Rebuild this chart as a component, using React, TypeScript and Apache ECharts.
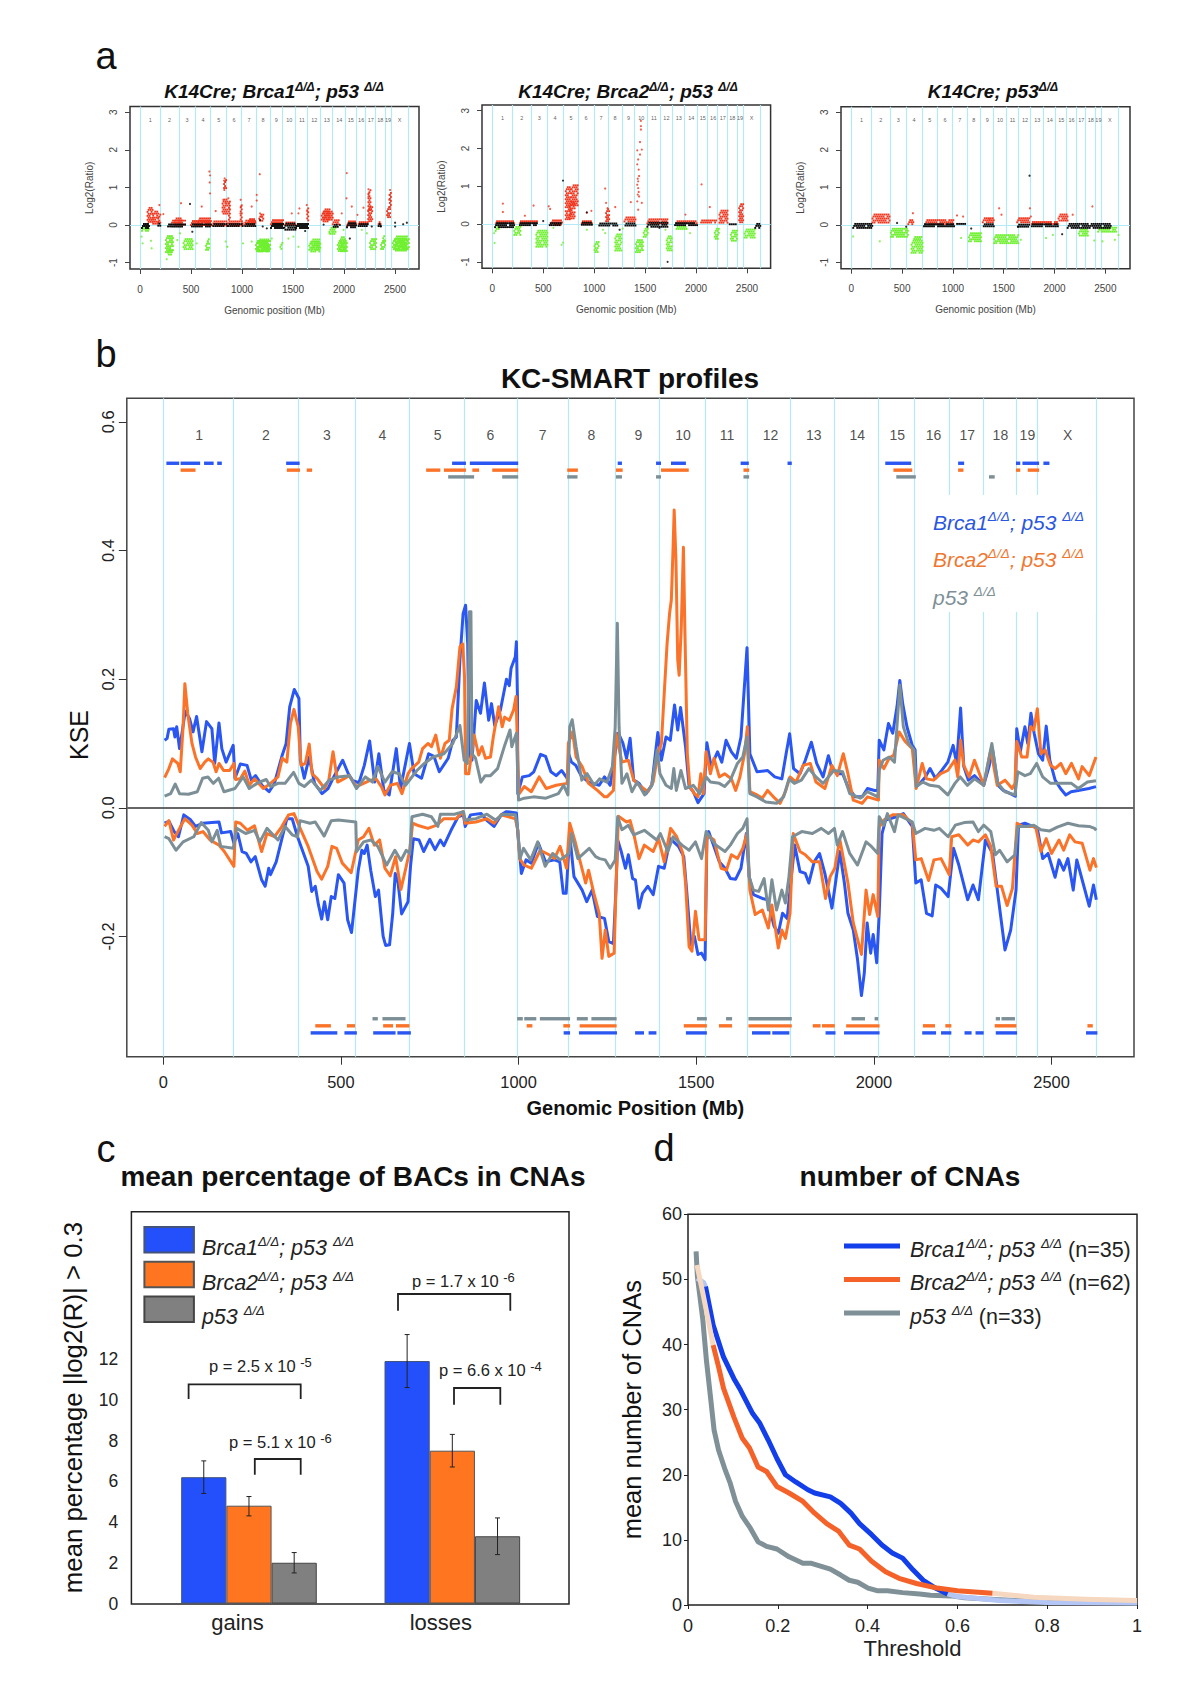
import React, { useEffect, useRef } from "react";
import * as echarts from "echarts";

const FONT = "Liberation Sans";
const BLUE = "#2A56F2";
const ORANGE = "#FA7328";
const GRAY = "#7C8F96";
const D = "Δ/Δ";

const chromEnds = [0,197,380,540,693,847,997,1140,1273,1396,1525,1644,1765,1889,2012,2115,2213,2307,2400,2460,2626];
const chromLabels = ["1","2","3","4","5","6","7","8","9","10","11","12","13","14","15","16","17","18","19","X"];
const chromCenters = [101,289,461,617,772,921,1068,1205,1337,1463,1587,1709,1831,1953,2066,2168,2263,2356,2432,2545];

// panel a: [x0,x1,low,high] dense clouds, plus individually read points
const a1RedBands = [[65,120,.1,.48],[120,170,.05,.38],[170,197,.05,.3],[295,440,0,.14],[330,400,0,.2],[490,690,0,.13],[560,680,.05,.2],[700,850,0,.12],[800,850,.28,.7],[815,840,1,1.22],[850,1000,0,.12],[862,876,.1,.7],[978,992,.1,.6],[1013,1130,0,.14],[1050,1120,.05,.18],[1160,1200,.1,.3],[1275,1406,0,.15],[1406,1520,0,.09],[1630,1645,.12,.52],[1772,1880,.12,.38],[1790,1850,.1,.44],[1880,1940,0,.15],[2020,2115,0,.12],[2125,2225,0,.1],[2230,2256,.4,.95],[2228,2270,.1,.5],[2320,2355,0,.1],[2413,2452,.2,.5],[2440,2456,.5,.93]];
const a1GreenBands = [[245,317,-.7,-.27],[265,300,-.78,-.6],[418,507,-.65,-.35],[638,677,-.65,-.42],[655,670,-.42,-.3],[837,850,-.6,-.5],[1128,1270,-.67,-.4],[1150,1250,-.72,-.36],[1367,1393,-.65,-.45],[1650,1766,-.67,-.42],[1670,1750,-.72,-.36],[1848,1913,-.25,-.05],[1930,2020,-.7,-.4],[1950,2005,-.7,-.3],[2246,2305,-.65,-.35],[2354,2397,-.65,-.4],[2375,2390,-.45,-.22],[2469,2633,-.65,-.35],[2490,2610,-.68,-.28],[10,80,-.14,-.02]];
const a1BlackBands = [[10,82,-.09,.05],[160,190,-.04,.06],[256,300,-.04,.04],[295,440,-.03,.04],[490,690,-.05,.04],[700,850,-.02,.05],[850,1000,-.03,.05],[1013,1130,-.03,.05],[1275,1406,-.08,.05],[1406,1520,-.1,.06],[1520,1640,-.07,.05],[1880,1930,-.03,.03],[2020,2115,-.05,.07],[2125,2225,-.04,.05],[2320,2355,-.05,.05]];
const a1Red = [[680,1.42],[687,1.32],[683,1.13],[687,.84],[830,1.24],[824,1.18],[837,1.16],[827,.93],[817,.67],[837,.58],[866,.71],[873,.58],[876,.44],[987,.67],[991,.49],[984,.31],[1174,1.35],[1144,.8],[1144,.65],[1095,.49],[742,.37],[605,.49],[402,.58],[190,.53],[229,.29],[1553,.31],[1488,.31],[1563,.44],[1635,.53],[1641,.36],[2027,1.38],[2024,.71],[2076,.49],[1978,.31],[2132,.27],[2191,.46],[2240,.95],[2243,.84],[2240,.76],[2250,.4],[2452,.93],[2446,.8],[2443,.67],[1177,.31],[1194,.22]];
const a1Green = [[16,-.31],[26,-.49],[108,-.42],[114,-.62],[262,-.91],[366,-.4],[392,-.22],[556,-.49],[840,-.44],[1010,-.49],[1095,-.44],[1292,-.36],[1455,-.36],[1504,-.31],[1553,-.58],[1857,-.22],[1880,-.18],[1995,-.13],[2175,-.13],[2224,-.22]];
const a1Black = [[490,.56],[513,-.18],[2057,-.36],[2501,.06],[2616,.06],[2580,.02],[1800,.01],[1177,.13],[1203,-.04],[1243,-.09],[1619,-.16],[1960,0],[2272,-.04],[2361,-.04],[2501,-.04]];

const a2RedBands = [[18,207,0,.1],[252,432,0,.1],[567,680,0,.12],[712,770,.15,1],[770,838,.5,1.05],[750,800,.15,.6],[860,973,.03,.1],[1108,1144,.05,.42],[1288,1400,.05,.2],[1513,1716,0,.15],[1790,2010,0,.1],[2031,2190,.05,.12],[2221,2302,.05,.38],[2414,2459,.05,.55]];
const a2GreenBands = [[207,275,-.28,-.05],[423,532,-.62,-.15],[995,1040,-.75,-.45],[1198,1266,-.7,-.25],[1400,1477,-.75,-.4],[1477,1522,-.35,-.1],[1703,1761,-.68,-.3],[1790,1900,-.12,-.05],[2175,2221,-.4,-.1],[2333,2401,-.42,-.15],[2468,2572,-.38,-.12],[23,60,-.18,-.05]];
const a2BlackBands = [[18,207,-.06,.05],[252,432,-.04,.05],[545,667,-.03,.05],[860,973,-.04,.06],[1031,1220,-.04,.04],[1288,1400,-.03,.04],[1513,1716,-.05,.06],[1775,2010,-.05,.05],[2302,2400,-.02,.02],[2572,2626,-.1,.03]];
const a2Red = [[104,.54],[104,.32],[320,.22],[405,.49],[554,.47],[568,.4],[1108,.94],[1117,.56],[1131,.42],[1207,.45],[973,.35],[928,.3],[1360,.58],[1459,2.73],[1459,2.59],[1459,2.5],[1450,2.17],[1423,1.95],[1468,1.97],[1450,1.84],[1432,1.71],[1423,1.58],[1437,1.44],[1441,1.27],[1432,1.13],[1423,1.04],[1428,.78],[1441,.73],[1423,.6],[1468,.56],[1432,.38],[1432,.95],[1437,.85],[1428,1.2],[2054,1.05],[2135,.45],[1896,.25]];
const a2Green = [[23,-.5],[18,-.24],[680,-.55],[694,-.49],[928,-.15],[1086,-.15],[1108,-.24],[1941,-.24],[1700,-.15],[600,-.1],[1280,-.12]];
const a2Black = [[694,1.15],[1721,-1],[928,.31],[500,.08],[1250,-.15],[1640,-.1]];

const a3RedBands = [[199,370,.07,.3],[551,605,0,.15],[719,1003,.04,.15],[1284,1397,.05,.2],[1623,1758,.05,.2],[1758,2030,.04,.1],[2030,2120,.1,.3]];
const a3GreenBands = [[380,551,-.3,-.08],[583,696,-.72,-.4],[600,680,-.4,-.3],[1148,1275,-.45,-.2],[1397,1636,-.5,-.25],[2230,2320,-.28,-.1],[2420,2600,-.18,-.05]];
const a3BlackBands = [[9,199,-.1,.05],[696,1003,-.03,.04],[1012,1125,0,.05],[1284,1397,-.03,.04],[1623,1758,-.03,.03],[1758,2030,-.03,.04],[2120,2550,-.08,.05]];
const a3Red = [[606,.31],[1758,.44],[1767,.22],[2373,.49],[2179,.27],[1455,.44],[1478,.27],[1360,.15],[1040,.25],[1100,.22]];
const a3Green = [[280,-.44],[18,-.31],[1080,-.35],[1668,-.4],[1916,-.35],[1984,-.27],[2391,-.42],[2472,-.44],[2594,-.4],[2630,-.27]];
const a3Black = [[1754,1.31],[2075,-.25],[1180,-.1],[1640,-.05],[450,.05],[540,-.05]];

// panel b
const blueUp = [[4,.105],[11,.108],[16,.122],[29,.123],[33,.11],[38,.126],[46,.092],[54,.12],[62,.15],[74,.139],[84,.118],[94,.142],[109,.087],[122,.134],[137,.123],[145,.069],[157,.132],[165,.092],[177,.071],[197,.097],[202,.046],[217,.068],[236,.066],[248,.043],[260,.05],[278,.035],[298,.025],[313,.038],[334,.08],[346,.1],[356,.157],[369,.184],[382,.17],[386,.074],[397,.046],[411,.079],[426,.038],[447,.022],[464,.03],[480,.048],[505,.074],[521,.053],[534,.042],[551,.039],[566,.066],[581,.104],[595,.04],[607,.084],[621,.027],[636,.02],[656,.092],[668,.03],[693,.1],[706,.053],[727,.046],[747,.084],[762,.08],[777,.056],[802,.077],[815,.105],[825,.11],[835,.23],[844,.302],[851,.315],[857,.255],[861,.084],[869,.074],[881,.167],[893,.147],[904,.194],[916,.136],[924,.162],[933,.128],[949,.152],[966,.2],[974,.19],[979,.217],[991,.235],[994,.258],[997,.17],[998,.022],[1011,.048],[1030,.05],[1043,.056],[1062,.083],[1076,.08],[1091,.056],[1106,.05],[1121,.058],[1138,.045],[1141,.084],[1149,.071],[1161,.066],[1176,.05],[1197,.04],[1227,.035],[1242,.048],[1258,.035],[1273,.09],[1281,.116],[1294,.1],[1304,.077],[1314,.108],[1324,.043],[1339,.038],[1359,.022],[1375,.035],[1392,.117],[1402,.074],[1415,.11],[1427,.105],[1439,.16],[1448,.121],[1456,.156],[1470,.095],[1480,.033],[1492,.025],[1505,.008],[1522,.022],[1530,.101],[1542,.064],[1560,.087],[1572,.071],[1584,.105],[1599,.087],[1613,.077],[1626,.11],[1643,.249],[1651,.084],[1671,.056],[1701,.058],[1721,.048],[1741,.045],[1753,.084],[1763,.115],[1774,.061],[1792,.053],[1807,.074],[1824,.102],[1839,.069],[1857,.048],[1872,.081],[1882,.061],[1897,.053],[1912,.053],[1927,.033],[1947,.017],[1967,.017],[1982,.03],[2002,.027],[2011,.027],[2015,.105],[2028,.09],[2041,.131],[2053,.116],[2065,.157],[2073,.198],[2081,.162],[2093,.126],[2108,.097],[2116,.09],[2120,.033],[2133,.04],[2145,.048],[2158,.061],[2173,.046],[2191,.058],[2208,.071],[2223,.097],[2233,.069],[2244,.155],[2253,.064],[2266,.043],[2283,.05],[2309,.035],[2324,.064],[2334,.09],[2349,.035],[2364,.027],[2384,.022],[2398,.018],[2402,.123],[2412,.087],[2425,.126],[2433,.1],[2442,.147],[2451,.116],[2463,.084],[2475,.074],[2485,.127],[2495,.074],[2510,.043],[2525,.03],[2540,.02],[2555,.025],[2575,.027],[2605,.03],[2625,.033]];
const orangeUp = [[4,.047],[16,.061],[26,.076],[41,.069],[48,.056],[56,.126],[61,.193],[69,.147],[81,.1],[91,.079],[104,.061],[117,.071],[127,.076],[140,.071],[149,.056],[157,.069],[170,.058],[187,.058],[199,.069],[204,.044],[217,.045],[230,.057],[242,.035],[257,.045],[282,.03],[302,.038],[323,.048],[335,.077],[348,.071],[358,.131],[368,.153],[380,.126],[388,.066],[400,.069],[411,.099],[419,.053],[434,.045],[454,.03],[466,.043],[478,.087],[491,.04],[508,.045],[523,.05],[544,.033],[564,.038],[579,.042],[599,.045],[614,.033],[624,.02],[639,.035],[659,.038],[672,.022],[689,.053],[699,.061],[719,.071],[730,.092],[745,.1],[755,.095],[767,.113],[780,.077],[793,.1],[805,.105],[813,.154],[825,.188],[835,.25],[843,.255],[848,.204],[851,.053],[860,.053],[875,.113],[888,.082],[897,.095],[907,.077],[921,.079],[929,.11],[944,.157],[954,.126],[961,.141],[974,.136],[986,.152],[993,.173],[998,.074],[1002,.022],[1016,.033],[1036,.025],[1058,.048],[1078,.03],[1106,.035],[1137,.038],[1140,.1],[1152,.118],[1162,.079],[1179,.064],[1197,.038],[1222,.027],[1242,.017],[1249,.017],[1267,.027],[1274,.116],[1291,.071],[1309,.074],[1324,.043],[1344,.033],[1364,.025],[1379,.04],[1392,.084],[1402,.1],[1410,.178],[1418,.255],[1425,.302],[1430,.323],[1435,.406],[1438,.463],[1443,.385],[1448,.23],[1452,.206],[1458,.281],[1464,.405],[1468,.281],[1475,.084],[1482,.033],[1495,.022],[1505,.017],[1513,.053],[1520,.022],[1528,.087],[1540,.053],[1550,.077],[1565,.048],[1580,.053],[1599,.045],[1611,.027],[1623,.048],[1636,.084],[1644,.126],[1651,.025],[1671,.02],[1686,.015],[1701,.027],[1721,.015],[1736,.007],[1751,.025],[1764,.048],[1781,.04],[1801,.066],[1821,.069],[1837,.04],[1862,.03],[1882,.066],[1897,.05],[1914,.084],[1927,.053],[1942,.012],[1967,.007],[1982,.017],[2013,.012],[2015,.074],[2028,.061],[2043,.077],[2056,.082],[2071,.118],[2088,.103],[2108,.092],[2119,.03],[2136,.069],[2148,.045],[2168,.043],[2188,.053],[2208,.058],[2228,.074],[2236,.048],[2244,.105],[2253,.066],[2268,.048],[2283,.074],[2309,.035],[2329,.09],[2347,.035],[2369,.043],[2389,.03],[2397,.038],[2402,.103],[2416,.079],[2431,.079],[2441,.126],[2450,.121],[2460,.154],[2470,.084],[2482,.09],[2497,.066],[2510,.061],[2526,.069],[2540,.053],[2556,.069],[2576,.045],[2586,.064],[2606,.05],[2625,.079]];
const grayUp = [[4,.018],[21,.022],[34,.037],[46,.022],[71,.021],[96,.025],[111,.046],[126,.048],[141,.038],[156,.046],[171,.025],[202,.03],[225,.048],[242,.03],[267,.039],[290,.044],[302,.033],[323,.038],[343,.038],[367,.055],[382,.038],[397,.033],[417,.043],[442,.027],[467,.043],[492,.048],[524,.05],[544,.03],[569,.048],[589,.04],[604,.064],[624,.04],[644,.056],[664,.053],[682,.035],[714,.058],[735,.069],[760,.079],[790,.084],[815,.1],[835,.128],[847,.074],[856,.069],[862,.305],[866,.305],[869,.084],[879,.077],[894,.04],[906,.05],[921,.05],[941,.061],[961,.097],[976,.121],[981,.095],[994,.116],[1000,.012],[1016,.015],[1042,.017],[1077,.015],[1112,.022],[1127,.035],[1139,.02],[1144,.126],[1151,.137],[1162,.095],[1178,.043],[1193,.053],[1213,.035],[1228,.045],[1249,.04],[1264,.064],[1272,.125],[1278,.287],[1283,.125],[1291,.038],[1305,.053],[1319,.025],[1334,.04],[1355,.02],[1375,.035],[1390,.09],[1398,.053],[1415,.035],[1430,.03],[1437,.061],[1444,.027],[1457,.058],[1470,.03],[1492,.035],[1510,.022],[1528,.048],[1540,.04],[1565,.038],[1580,.033],[1596,.043],[1616,.069],[1631,.079],[1643,.11],[1651,.022],[1671,.017],[1696,.009],[1726,.007],[1746,.017],[1761,.045],[1776,.038],[1796,.043],[1817,.061],[1837,.048],[1857,.038],[1887,.058],[1912,.056],[1932,.022],[1962,.015],[1982,.025],[2011,.017],[2015,.058],[2026,.074],[2043,.079],[2058,.071],[2073,.191],[2083,.126],[2098,.1],[2113,.09],[2119,.033],[2138,.04],[2158,.035],[2183,.033],[2208,.02],[2228,.038],[2243,.048],[2263,.035],[2283,.045],[2309,.035],[2332,.1],[2349,.038],[2369,.025],[2397,.02],[2405,.056],[2425,.05],[2440,.053],[2458,.069],[2475,.048],[2497,.038],[2525,.038],[2556,.038],[2575,.03],[2601,.04],[2625,.042]];
const blueDown = [[4,-.024],[16,-.021],[31,-.037],[43,-.045],[58,-.011],[76,-.018],[91,-.029],[112,-.024],[137,-.023],[157,-.022],[164,-.039],[190,-.037],[199,-.055],[210,-.04],[222,-.068],[234,-.071],[247,-.084],[259,-.076],[277,-.112],[287,-.122],[297,-.094],[302,-.104],[318,-.084],[331,-.055],[348,-.017],[363,-.017],[378,-.045],[393,-.068],[408,-.091],[418,-.13],[428,-.122],[437,-.151],[446,-.173],[454,-.146],[463,-.174],[473,-.138],[483,-.141],[493,-.104],[509,-.117],[519,-.174],[530,-.194],[540,-.143],[549,-.097],[559,-.066],[566,-.071],[574,-.058],[584,-.097],[597,-.138],[606,-.128],[619,-.2],[626,-.214],[637,-.213],[646,-.164],[653,-.102],[661,-.117],[671,-.165],[689,-.146],[696,-.091],[704,-.048],[720,-.05],[733,-.068],[750,-.049],[765,-.065],[780,-.05],[790,-.059],[810,-.035],[830,-.014],[845,-.011],[850,-.029],[865,-.011],[895,-.009],[910,-.019],[931,-.029],[951,-.011],[966,-.006],[994,-.008],[998,-.04],[1008,-.102],[1021,-.081],[1036,-.086],[1056,-.055],[1076,-.084],[1101,-.081],[1116,-.084],[1126,-.133],[1134,-.133],[1144,-.042],[1156,-.107],[1179,-.128],[1192,-.146],[1207,-.128],[1222,-.169],[1242,-.172],[1254,-.208],[1267,-.211],[1274,-.128],[1279,-.05],[1289,-.068],[1301,-.094],[1309,-.073],[1321,-.11],[1329,-.112],[1339,-.156],[1349,-.133],[1364,-.122],[1379,-.135],[1394,-.091],[1410,-.094],[1427,-.048],[1450,-.06],[1465,-.076],[1473,-.128],[1485,-.213],[1495,-.2],[1505,-.228],[1515,-.226],[1525,-.236],[1530,-.05],[1535,-.037],[1550,-.06],[1565,-.084],[1581,-.094],[1596,-.11],[1611,-.111],[1626,-.094],[1641,-.04],[1649,-.107],[1661,-.135],[1686,-.141],[1701,-.143],[1719,-.184],[1731,-.195],[1743,-.164],[1756,-.172],[1766,-.117],[1777,-.058],[1792,-.099],[1807,-.102],[1817,-.117],[1832,-.084],[1847,-.071],[1862,-.102],[1882,-.156],[1892,-.117],[1904,-.068],[1917,-.117],[1927,-.164],[1942,-.19],[1954,-.236],[1965,-.292],[1973,-.257],[1981,-.179],[1991,-.226],[1998,-.197],[2008,-.241],[2015,-.164],[2023,-.04],[2033,-.019],[2063,-.014],[2083,-.009],[2108,-.029],[2118,-.117],[2133,-.112],[2148,-.164],[2164,-.168],[2174,-.12],[2189,-.125],[2209,-.138],[2224,-.063],[2239,-.089],[2264,-.143],[2279,-.12],[2294,-.143],[2314,-.05],[2334,-.071],[2352,-.148],[2369,-.221],[2385,-.19],[2400,-.128],[2407,-.027],[2425,-.024],[2460,-.032],[2475,-.079],[2490,-.071],[2510,-.108],[2521,-.081],[2534,-.097],[2546,-.079],[2561,-.128],[2571,-.081],[2591,-.122],[2606,-.153],[2618,-.12],[2626,-.143]];
const orangeDown = [[4,-.029],[16,-.02],[29,-.05],[46,-.032],[61,-.017],[81,-.027],[96,-.04],[112,-.037],[132,-.05],[157,-.058],[172,-.068],[199,-.091],[204,-.022],[217,-.024],[237,-.035],[257,-.028],[277,-.068],[292,-.04],[313,-.045],[333,-.03],[353,-.011],[368,-.009],[388,-.035],[408,-.06],[433,-.099],[446,-.111],[463,-.091],[475,-.06],[488,-.063],[504,-.086],[529,-.101],[549,-.05],[564,-.045],[579,-.032],[594,-.058],[609,-.05],[624,-.094],[639,-.106],[654,-.076],[669,-.127],[684,-.091],[694,-.066],[702,-.024],[720,-.028],[745,-.032],[770,-.027],[790,-.017],[825,-.017],[843,-.006],[850,-.024],[880,-.022],[911,-.017],[931,-.024],[951,-.011],[991,-.017],[998,-.035],[1003,-.079],[1016,-.089],[1036,-.094],[1061,-.066],[1086,-.073],[1101,-.079],[1117,-.06],[1135,-.094],[1144,-.024],[1158,-.05],[1176,-.089],[1189,-.117],[1197,-.097],[1212,-.133],[1227,-.164],[1235,-.234],[1244,-.19],[1254,-.231],[1269,-.226],[1274,-.128],[1281,-.013],[1304,-.022],[1314,-.02],[1324,-.04],[1339,-.079],[1354,-.058],[1379,-.068],[1394,-.048],[1410,-.084],[1428,-.032],[1445,-.045],[1462,-.07],[1470,-.117],[1480,-.216],[1488,-.223],[1498,-.161],[1508,-.205],[1525,-.205],[1530,-.042],[1550,-.05],[1570,-.094],[1585,-.097],[1599,-.073],[1616,-.079],[1631,-.063],[1643,-.04],[1651,-.128],[1666,-.166],[1686,-.159],[1703,-.187],[1713,-.151],[1731,-.218],[1741,-.19],[1751,-.203],[1764,-.164],[1773,-.04],[1792,-.068],[1807,-.073],[1827,-.084],[1847,-.084],[1864,-.141],[1877,-.107],[1890,-.094],[1904,-.049],[1927,-.117],[1942,-.179],[1965,-.228],[1978,-.128],[1988,-.166],[1998,-.135],[2011,-.169],[2015,-.03],[2028,-.019],[2053,-.011],[2083,-.011],[2108,-.024],[2118,-.081],[2133,-.079],[2154,-.113],[2169,-.081],[2189,-.079],[2212,-.104],[2219,-.045],[2239,-.042],[2264,-.058],[2279,-.05],[2294,-.053],[2314,-.042],[2329,-.06],[2344,-.122],[2359,-.122],[2375,-.152],[2390,-.125],[2403,-.024],[2420,-.029],[2455,-.029],[2470,-.068],[2485,-.048],[2500,-.071],[2521,-.05],[2534,-.066],[2551,-.042],[2566,-.053],[2586,-.055],[2608,-.097],[2618,-.079],[2626,-.093]];
const grayDown = [[4,-.045],[16,-.048],[36,-.066],[56,-.053],[86,-.045],[107,-.023],[127,-.035],[137,-.053],[152,-.035],[162,-.06],[197,-.063],[207,-.032],[232,-.04],[257,-.035],[272,-.053],[292,-.032],[323,-.05],[343,-.029],[363,-.042],[378,-.045],[385,-.02],[413,-.024],[428,-.022],[453,-.044],[473,-.02],[493,-.019],[542,-.022],[544,-.068],[564,-.053],[584,-.05],[604,-.06],[629,-.089],[652,-.066],[669,-.082],[684,-.066],[694,-.071],[700,-.014],[730,-.01],[755,-.014],[773,-.029],[780,-.01],[820,-.01],[845,-.006],[850,-.019],[880,-.017],[911,-.01],[935,-.019],[956,-.01],[991,-.011],[998,-.035],[1004,-.079],[1014,-.063],[1034,-.081],[1054,-.053],[1075,-.091],[1096,-.071],[1117,-.081],[1142,-.071],[1149,-.04],[1167,-.079],[1199,-.063],[1217,-.076],[1228,-.079],[1244,-.081],[1258,-.094],[1272,-.081],[1279,-.014],[1291,-.034],[1309,-.027],[1324,-.042],[1354,-.035],[1389,-.05],[1399,-.04],[1420,-.068],[1435,-.045],[1460,-.058],[1480,-.066],[1498,-.053],[1515,-.079],[1528,-.037],[1555,-.058],[1581,-.068],[1596,-.058],[1616,-.04],[1631,-.032],[1643,-.017],[1649,-.107],[1661,-.128],[1676,-.13],[1691,-.11],[1703,-.159],[1713,-.112],[1726,-.159],[1741,-.128],[1751,-.148],[1761,-.107],[1771,-.045],[1797,-.037],[1827,-.04],[1852,-.032],[1872,-.04],[1889,-.032],[1897,-.058],[1912,-.037],[1932,-.071],[1954,-.089],[1978,-.053],[1993,-.06],[2011,-.071],[2015,-.014],[2028,-.027],[2038,-.009],[2058,-.037],[2068,-.011],[2108,-.022],[2118,-.04],[2144,-.032],[2169,-.035],[2184,-.032],[2209,-.045],[2229,-.027],[2254,-.023],[2279,-.022],[2294,-.037],[2309,-.027],[2329,-.037],[2342,-.073],[2354,-.066],[2375,-.084],[2397,-.073],[2405,-.029],[2430,-.029],[2450,-.027],[2470,-.034],[2495,-.036],[2516,-.03],[2546,-.024],[2576,-.028],[2606,-.029],[2621,-.032],[2626,-.035]];

const segBlueTop = [[9,45],[49,104],[115,142],[152,165],[346,384],[813,852],[863,999],[1279,1291],[1387,1401],[1429,1471],[1625,1648],[1757,1769],[2032,2105],[2237,2254],[2400,2412],[2418,2465],[2477,2494]];
const segOrangeTop = [[49,91],[348,385],[404,419],[740,780],[790,852],[870,889],[926,999],[1137,1167],[1274,1293],[1401,1479],[1633,1649],[2055,2108],[2237,2252],[2400,2412],[2433,2465]];
const segGrayTop = [[802,875],[954,999],[1137,1166],[1274,1291],[1387,1401],[1633,1649],[2063,2118],[2324,2340]];
const segGrayBottom = [[589,604],[617,682],[996,1012],[1016,1050],[1060,1145],[1164,1195],[1205,1276],[1502,1530],[1584,1601],[1647,1769],[1937,1975],[2002,2012],[2343,2355],[2359,2397]];
const segOrangeBottom = [[428,472],[517,540],[619,647],[655,693],[1023,1039],[1126,1145],[1172,1276],[1465,1530],[1564,1601],[1647,1769],[1828,1850],[1854,1890],[1922,2016],[2138,2172],[2201,2218],[2340,2401],[2601,2616]];
const segBlueBottom = [[415,490],[510,545],[591,654],[659,697],[1127,1145],[1170,1277],[1328,1353],[1366,1388],[1471,1530],[1657,1709],[1714,1762],[1864,1892],[1916,2016],[2136,2175],[2189,2218],[2255,2275],[2286,2309],[2343,2403],[2597,2629]];

// panel c
const cCategories = ["gains", "losses"];
const cBrca1 = [6.2, 11.9];
const cBrca2 = [4.8, 7.5];
const cP53 = [2.0, 3.3];
const cErrors = [[0,0,5.4,7.0],[0,1,4.3,5.25],[0,2,1.5,2.5],[1,0,10.6,13.2],[1,1,6.7,8.3],[1,2,2.4,4.2]];
const cTicks = [0,2,4,6,8,10,12];

// panel d
const dBlue = [[.039,48.9],[.056,43],[.079,38.1],[.102,34.8],[.117,33],[.144,29.4],[.16,27.9],[.179,25.3],[.198,22.5],[.217,20],[.24,18.9],[.267,17.7],[.282,17.2],[.317,16.6],[.34,15.6],[.363,14.1],[.382,12.5],[.409,10.8],[.432,9.2],[.455,8],[.478,7.2],[.501,5.4],[.524,3.8],[.551,2.6],[.578,1.7]];
const dBlueHead = [[.02,50.2],[.035,49.5],[.039,48.9]];
const dBlueTail = [[.578,1.7],[.6,1.3],[.693,.7],[.8,.4],[1,.3]];
const dOrange = [[.056,39.9],[.068,36.6],[.079,33.3],[.102,28.9],[.121,25.6],[.137,24.1],[.156,21.2],[.175,20.5],[.198,18.2],[.225,17.2],[.256,15.9],[.282,14.1],[.309,12.5],[.336,11.3],[.359,9.2],[.382,8.6],[.409,6.7],[.44,5.1],[.47,4.1],[.509,3.3],[.555,2.6],[.6,2.2],[.678,1.8]];
const dOrangeHead = [[.02,52.2],[.033,47.9],[.045,43.8],[.056,39.9]];
const dOrangeTail = [[.678,1.8],[.77,1.2],[.885,.9],[1,.7]];
const dGray = [[.018,54.3],[.021,50.4],[.033,43.8],[.041,37.6],[.05,32],[.058,26.9],[.068,23.8],[.083,20.7],[.094,18.7],[.106,15.9],[.121,13.6],[.137,12],[.156,9.7],[.175,9],[.198,8.6],[.225,7.4],[.256,6.4],[.275,6.4],[.317,5.5],[.34,4.6],[.359,3.8],[.378,3.5],[.401,2.6],[.421,2.2],[.444,2.2],[.478,1.9],[.516,1.7],[.54,1.5],[.586,1.4],[.616,1.1],[.693,.8],[.8,.5],[1,.35]];

const pLabels = [
  { base: "p = 2.5 x 10", exp: "-5", x: 209, y: 1366 },
  { base: "p = 5.1 x 10", exp: "-6", x: 229, y: 1442 },
  { base: "p = 1.7 x 10", exp: "-6", x: 412, y: 1281 },
  { base: "p = 6.6 x 10", exp: "-4", x: 439, y: 1370 },
];
const brackets = [
  [188.6, 300.7, 1384.3, 1399],
  [254.8, 300.7, 1459, 1474.7],
  [398, 510.3, 1294, 1310.7],
  [454, 500.3, 1388, 1404.7],
];

const panelATitles = [
  { text: `{b|K14Cre; Brca1}{s|${D}}{b|; p53 }{s|${D}}`, x: 274 },
  { text: `{b|K14Cre; Brca2}{s|${D}}{b|; p53 }{s|${D}}`, x: 628 },
  { text: `{b|K14Cre; p53}{s|${D}}`, x: 993 },
];

// A cloud of many overlapping points is drawn as a speckled fill of its band.
function bandSeries(bands: number[][], color: string, axis: number, z: number) {
  return {
    type: "custom", xAxisIndex: axis, yAxisIndex: axis, z, silent: true, data: bands,
    encode: { x: [0, 1], y: [2, 3] },
    renderItem: (_: any, api: any) => {
      const a = api.coord([api.value(0), api.value(3)]);
      const b = api.coord([api.value(1), api.value(2)]);
      const children: any[] = [];
      const step = 2.0;
      let row = 0;
      for (let y = a[1]; y <= b[1] || row === 0; y += step, row++) {
        let col = 0;
        for (let x = a[0] + (row % 2) * 1.0; x <= b[0] || col === 0; x += step, col++) {
          if ((col * 7 + row * 13) % 11 === 0) continue;
          children.push({ type: "rect", shape: { x, y, width: 1.9, height: 1.9 }, style: { fill: color } });
        }
      }
      return { type: "group", children };
    },
  };
}
function dots(data: number[][], color: string, axis: number, z: number) {
  return { type: "scatter", xAxisIndex: axis, yAxisIndex: axis, data, symbolSize: 2.2, itemStyle: { color }, z, silent: true };
}
function segSeries(data: number[][], y: number, color: string) {
  return {
    type: "custom", xAxisIndex: 3, yAxisIndex: 3, z: 4, silent: true, data, encode: { x: [0, 1] },
    renderItem: (_: any, api: any) => {
      const a = api.coord([api.value(0), y]);
      const b = api.coord([api.value(1), y]);
      return { type: "line", shape: { x1: a[0], y1: a[1], x2: b[0], y2: b[1] }, style: { stroke: color, lineWidth: 3.4 } };
    },
  };
}
function curve(name: string, data: number[][], color: string, axis: number, width: number, z: number) {
  return { name, type: "line", xAxisIndex: axis, yAxisIndex: axis, data, symbol: "none", showSymbol: false, lineStyle: { color, width, join: "round" }, itemStyle: { color }, z, silent: true };
}
const chromMark = (extra: any[] = []) => ({
  silent: true, symbol: "none", z: 1, label: { show: false },
  lineStyle: { color: "#B4E9F6", width: 1.2, type: "solid" },
  data: [...chromEnds.map((x) => ({ xAxis: x })), ...extra],
});

function panelA(i: number, red: number[][], green: number[][], black: number[][], rb: number[][], gb: number[][], kb: number[][]) {
  return [
    { type: "scatter", xAxisIndex: i, yAxisIndex: i, data: chromCenters.map((x) => [x, 2.8]), symbolSize: 0, silent: true, z: 2,
      markLine: chromMark([{ yAxis: 0 }]),
      label: { show: true, position: "inside", fontSize: 5.5, color: "#333", fontFamily: FONT, formatter: (p: any) => chromLabels[p.dataIndex] } },
    bandSeries(rb, "#F0361E", i, 3), bandSeries(gb, "#6EF02E", i, 3), bandSeries(kb, "#0A0A0A", i, 4),
    dots(red, "#F0361E", i, 5), dots(green, "#6EF02E", i, 5), dots(black, "#000", i, 6),
  ];
}

const boxes = [
  { left: 130, top: 106.5, width: 289, height: 162.5 },
  { left: 482, top: 105, width: 288.6, height: 163.3 },
  { left: 841, top: 106.7, width: 289, height: 162 },
  { left: 126.8, top: 398.3, width: 1007.2, height: 658.4 },
  { left: 147.3, top: 1211.7, width: 406.7, height: 391.8 },
  { left: 688, top: 1214.3, width: 449, height: 390.7 },
];
const aX = [[-98, 2735], [-101, 2732], [-102, 2743]];
const noLine = { show: false, onZero: false };

function aAxes(i: number) {
  const common = { gridIndex: i, type: "value", splitLine: { show: false }, axisLine: noLine };
  const lab = { fontSize: 10, color: "#444", fontFamily: FONT, formatter: (v: number) => String(v) };
  return {
    x: { ...common, min: aX[i][0], max: aX[i][1], name: "Genomic position (Mb)", nameLocation: "middle", nameGap: 36, nameTextStyle: { fontSize: 10, color: "#444", fontFamily: FONT },
      axisTick: { length: 5, lineStyle: { color: "#444" }, customValues: [0, 500, 1000, 1500, 2000, 2500] },
      axisLabel: { ...lab, margin: 15, customValues: [0, 500, 1000, 1500, 2000, 2500] } },
    y: { ...common, min: -1.17, max: 3.15, name: "Log2(Ratio)", nameLocation: "middle", nameRotate: 90, nameGap: 36, nameTextStyle: { fontSize: 10, color: "#444", fontFamily: FONT },
      axisTick: { length: 5, lineStyle: { color: "#444" }, customValues: [-1, 0, 1, 2, 3] },
      axisLabel: { ...lab, rotate: 90, margin: 12, customValues: [-1, 0, 1, 2, 3] } },
  };
}
const aAx = [aAxes(0), aAxes(1), aAxes(2)];
const bXTicks = [0, 500, 1000, 1500, 2000, 2500];
const bYTicks = [-0.2, 0, 0.2, 0.4, 0.6];

const it = (size: number, color?: string) => ({ fontSize: size, fontStyle: "italic", fontFamily: FONT, lineHeight: 26, color });
const sup = (size: number, color?: string) => ({ fontSize: size, fontStyle: "italic", fontFamily: FONT, lineHeight: size + 1, verticalAlign: "top", color });

const cNames = [`Brca1${D}; p53 ${D}`, `Brca2${D}; p53 ${D}`, `p53 ${D}`];
const dNames = [`Brca1${D}; p53 ${D} (n=35)`, `Brca2${D}; p53 ${D} (n=62)`, `p53 ${D} (n=33)`];
const legendRich: Record<string, string> = {
  [cNames[0]]: `{i|Brca1}{s|${D}}{i|; p53 }{s|${D}}`,
  [cNames[1]]: `{i|Brca2}{s|${D}}{i|; p53 }{s|${D}}`,
  [cNames[2]]: `{i|p53 }{s|${D}}`,
  [dNames[0]]: `{i|Brca1}{s|${D}}{i|; p53 }{s|${D}}{r| (n=35)}`,
  [dNames[1]]: `{i|Brca2}{s|${D}}{i|; p53 }{s|${D}}{r| (n=62)}`,
  [dNames[2]]: `{i|p53 }{s|${D}}{r| (n=33)}`,
};
const legendRichStyles = { i: { ...it(21.5, "#222") }, s: { ...sup(13, "#222") }, r: { fontSize: 21.5, fontFamily: FONT, color: "#222", lineHeight: 26 } };

function buildOption(): any {
  const letter = (text: string, left: number, top: number) => ({ text, left, top, padding: 0, textAlign: "center", textVerticalAlign: "middle", textStyle: { fontSize: 38, fontWeight: "normal", fontFamily: FONT, color: "#111" } });
  const head = (text: string, left: number, top: number) => ({ text, left, top, padding: 0, textAlign: "center", textVerticalAlign: "middle", textStyle: { fontSize: 28, fontWeight: "bold", fontFamily: FONT, color: "#111" } });
  return {
    animation: false,
    backgroundColor: "#fff",
    textStyle: { fontFamily: FONT },
    title: [
      letter("a", 106, 56), letter("b", 106, 354), letter("c", 106, 1149), letter("d", 664, 1148),
      head("KC-SMART profiles", 630, 378), head("mean percentage of BACs in CNAs", 353, 1176), head("number of CNAs", 910, 1176),
      ...panelATitles.map((t) => ({
        text: t.text, left: t.x, top: 91, padding: 0, textAlign: "center", textVerticalAlign: "middle",
        textStyle: { rich: {
          b: { fontSize: 19, fontWeight: "bold", fontStyle: "italic", fontFamily: FONT, color: "#111", lineHeight: 21 },
          s: { fontSize: 12, fontStyle: "italic", fontFamily: FONT, color: "#111", lineHeight: 13, verticalAlign: "top" },
        } },
      })),
    ],
    grid: boxes.map((b, i) => ({ ...b, show: i !== 4, containLabel: false, borderColor: i < 3 ? "#333" : i === 3 ? "#444" : "#222", borderWidth: 1.5, backgroundColor: "transparent" })),
    legend: [
      { data: cNames, left: 143.4, top: 1226, padding: 0, orient: "vertical", itemWidth: 49.5, itemHeight: 25.5, itemGap: 2, icon: "rect", selectedMode: false,
        formatter: (n: string) => legendRich[n], textStyle: { padding: [16, 0, 0, 3], rich: legendRichStyles } },
      { data: dNames, left: 844, top: 1236.5, padding: 0, orient: "vertical", itemWidth: 56, itemHeight: 5, itemGap: 9.5, itemStyle: { borderWidth: 0 }, icon: "rect", selectedMode: false,
        formatter: (n: string) => legendRich[n], textStyle: { padding: [7, 0, 0, 5], rich: legendRichStyles } },
    ],
    xAxis: [
      aAx[0].x, aAx[1].x, aAx[2].x,
      { gridIndex: 3, type: "value", min: -102.4, max: 2732, splitLine: { show: false }, axisLine: noLine,
        axisTick: { length: 8, lineStyle: { color: "#333", width: 1 }, customValues: bXTicks },
        axisLabel: { fontSize: 16.4, color: "#222", margin: 17, fontFamily: FONT, formatter: (v: number) => String(v), customValues: bXTicks },
        name: "Genomic Position (Mb)", nameLocation: "middle", nameGap: 41, nameTextStyle: { fontSize: 20, fontWeight: "bold", color: "#111", fontFamily: FONT, padding: [0, 0, 0, 10] } },
      { gridIndex: 4, type: "category", data: cCategories, axisLine: noLine, axisTick: { show: false },
        axisLabel: { fontSize: 22, color: "#222", fontFamily: FONT, margin: 8, padding: [0, 23, 0, 0] } },
      { gridIndex: 5, type: "value", min: 0, max: 1, interval: 0.2, splitLine: { show: false }, axisLine: noLine,
        axisTick: { length: 4, lineStyle: { color: "#222" } },
        axisLabel: { fontSize: 18, color: "#222", margin: 12, fontFamily: FONT },
        name: "Threshold", nameLocation: "middle", nameGap: 32, nameTextStyle: { fontSize: 22, color: "#222", fontFamily: FONT } },
    ],
    yAxis: [
      aAx[0].y, aAx[1].y, aAx[2].y,
      { gridIndex: 3, type: "value", min: -0.387, max: 0.6367, splitLine: { show: false }, axisLine: noLine,
        axisTick: { length: 8, lineStyle: { color: "#333", width: 1 }, customValues: bYTicks },
        axisLabel: { fontSize: 16.4, color: "#222", rotate: 90, margin: 11, fontFamily: FONT, formatter: (v: number) => v.toFixed(1), customValues: bYTicks },
        name: "KSE", nameLocation: "middle", nameRotate: 90, nameGap: 33, nameTextStyle: { fontSize: 25, color: "#111", fontFamily: FONT, padding: [0, 15, 0, 0] } },
      { gridIndex: 4, type: "value", min: 0, max: 19.23, offset: 16, splitLine: { show: false }, axisLine: noLine,
        axisTick: { length: 6, lineStyle: { color: "#222" }, customValues: cTicks },
        axisLabel: { fontSize: 17.5, color: "#222", margin: 13, fontFamily: FONT, customValues: cTicks },
        name: "mean percentage |log2(R)| > 0.3", nameLocation: "middle", nameRotate: 90, nameGap: 45, nameTextStyle: { fontSize: 25.8, color: "#111", fontFamily: FONT } },
      { gridIndex: 5, type: "value", min: 0, max: 60, interval: 10, splitLine: { show: false }, axisLine: noLine,
        axisTick: { length: 4, lineStyle: { color: "#222" } },
        axisLabel: { fontSize: 18, color: "#222", margin: 6, fontFamily: FONT },
        name: "mean number of CNAs", nameLocation: "middle", nameRotate: 90, nameGap: 43, nameTextStyle: { fontSize: 25.5, color: "#111", fontFamily: FONT } },
    ],
    series: [
      ...panelA(0, a1Red, a1Green, a1Black, a1RedBands, a1GreenBands, a1BlackBands),
      ...panelA(1, a2Red, a2Green, a2Black, a2RedBands, a2GreenBands, a2BlackBands),
      ...panelA(2, a3Red, a3Green, a3Black, a3RedBands, a3GreenBands, a3BlackBands),
      { type: "scatter", xAxisIndex: 3, yAxisIndex: 3, data: chromCenters.map((x) => [x, 0.58]), symbolSize: 0, silent: true, z: 5,
        markLine: chromMark([{ yAxis: 0, lineStyle: { color: "#666", width: 2, type: "solid" } }]),
        label: { show: true, position: "inside", fontSize: 14, color: "#222", fontFamily: FONT, formatter: (p: any) => chromLabels[p.dataIndex] } },
      segSeries(segBlueTop, 0.5357, BLUE), segSeries(segOrangeTop, 0.525, ORANGE), segSeries(segGrayTop, 0.5145, GRAY),
      segSeries(segGrayBottom, -0.328, GRAY), segSeries(segOrangeBottom, -0.339, ORANGE), segSeries(segBlueBottom, -0.35, BLUE),
      curve("Brca1 gains", blueUp, BLUE, 3, 3, 10), curve("Brca1 losses", blueDown, BLUE, 3, 3, 10),
      curve("Brca2 gains", orangeUp, ORANGE, 3, 3, 11), curve("Brca2 losses", orangeDown, ORANGE, 3, 3, 11),
      curve("p53 gains", grayUp, GRAY, 3, 3, 12), curve("p53 losses", grayDown, GRAY, 3, 3, 12),
      { name: cNames[0], type: "bar", xAxisIndex: 4, yAxisIndex: 4, data: cBrca1, barWidth: 45.2, barGap: 0, itemStyle: { color: "#2350FA", borderColor: "#44537A", borderWidth: 1 }, silent: true },
      { name: cNames[1], type: "bar", xAxisIndex: 4, yAxisIndex: 4, data: cBrca2, barWidth: 45.2, barGap: 0, itemStyle: { color: "#FF7520", borderColor: "#555", borderWidth: 1 }, silent: true },
      { name: cNames[2], type: "bar", xAxisIndex: 4, yAxisIndex: 4, data: cP53, barWidth: 45.2, barGap: 0, itemStyle: { color: "#808080", borderColor: "#444", borderWidth: 1 }, silent: true },
      { type: "custom", xAxisIndex: 4, yAxisIndex: 4, z: 6, silent: true, data: cErrors, encode: { x: 0, y: [2, 3] },
        renderItem: (_: any, api: any) => {
          const lo = api.coord([api.value(0), api.value(2)]);
          const hi = api.coord([api.value(0), api.value(3)]);
          const x = lo[0] + (api.value(1) - 1) * 45.2;
          const st = { stroke: "#222", lineWidth: 1 };
          return { type: "group", children: [
            { type: "line", shape: { x1: x, y1: lo[1], x2: x, y2: hi[1] }, style: st },
            { type: "line", shape: { x1: x - 2.5, y1: lo[1], x2: x + 2.5, y2: lo[1] }, style: st },
            { type: "line", shape: { x1: x - 2.5, y1: hi[1], x2: x + 2.5, y2: hi[1] }, style: st },
          ] };
        } },
      curve(dNames[2], dGray, "#7F9097", 5, 5, 3),
      curve("Brca1 low", dBlueTail, "#B3C6F5", 5, 5, 3),
      curve("Brca1 start", dBlueHead, "#B3C6F5", 5, 5, 3),
      curve(dNames[0], dBlue, "#123FEA", 5, 5, 4),
      curve("Brca2 low", dOrangeTail, "#F6D7C0", 5, 5, 5),
      curve("Brca2 start", dOrangeHead, "#F6D7C0", 5, 5, 5),
      curve(dNames[1], dOrange, "#F4622A", 5, 5, 6),
    ],
    graphic: [
      { type: "rect", z: 0, shape: { x: 131.4, y: 1211.7, width: 437.6, height: 392.3 }, style: { fill: "none", stroke: "#222", lineWidth: 1.5 } },
      ...brackets.map(([x0, x1, t, b]) => ({ type: "polyline", z: 20, shape: { points: [[x0, b], [x0, t], [x1, t], [x1, b]] }, style: { fill: "none", stroke: "#222", lineWidth: 1.8 } })),
      ...pLabels.map((p) => ({ type: "text", z: 20, x: p.x, y: p.y, style: {
        text: `{a|${p.base} }{e|${p.exp}}`, verticalAlign: "middle", align: "left",
        rich: { a: { fontSize: 16.5, fontFamily: FONT, fill: "#222", lineHeight: 20 }, e: { fontSize: 13, fontFamily: FONT, fill: "#222", lineHeight: 13, verticalAlign: "top" } },
      } })),
      { type: "rect", z: 30, shape: { x: 930, y: 495, width: 166, height: 117 }, style: { fill: "#fff" } },
      ...[
        { y: 522, color: "#2A56E0", t: `{i|Brca1}{s|${D}}{i|; p53 }{s|${D}}` },
        { y: 559, color: "#F0772F", t: `{i|Brca2}{s|${D}}{i|; p53 }{s|${D}}` },
        { y: 597, color: "#7E9097", t: `{i|p53 }{s|${D}}` },
      ].map((l) => ({ type: "text", z: 31, x: 933, y: l.y, style: {
        text: l.t, verticalAlign: "middle", align: "left",
        rich: { i: { fontSize: 21, fontStyle: "italic", fontFamily: FONT, fill: l.color, lineHeight: 26 }, s: { fontSize: 13.5, fontStyle: "italic", fontFamily: FONT, fill: l.color, lineHeight: 14, verticalAlign: "top" } },
      } })),
    ],
  };
}

export default function App() {
  const ref = useRef<HTMLDivElement>(null);
  useEffect(() => {
    const chart = echarts.init(ref.current!, null, { renderer: "svg" });
    chart.setOption(buildOption());
    return () => chart.dispose();
  }, []);
  return <div ref={ref} style={{ position: "absolute", left: 0, top: 0, width: 1200, height: 1697 }} />;
}
